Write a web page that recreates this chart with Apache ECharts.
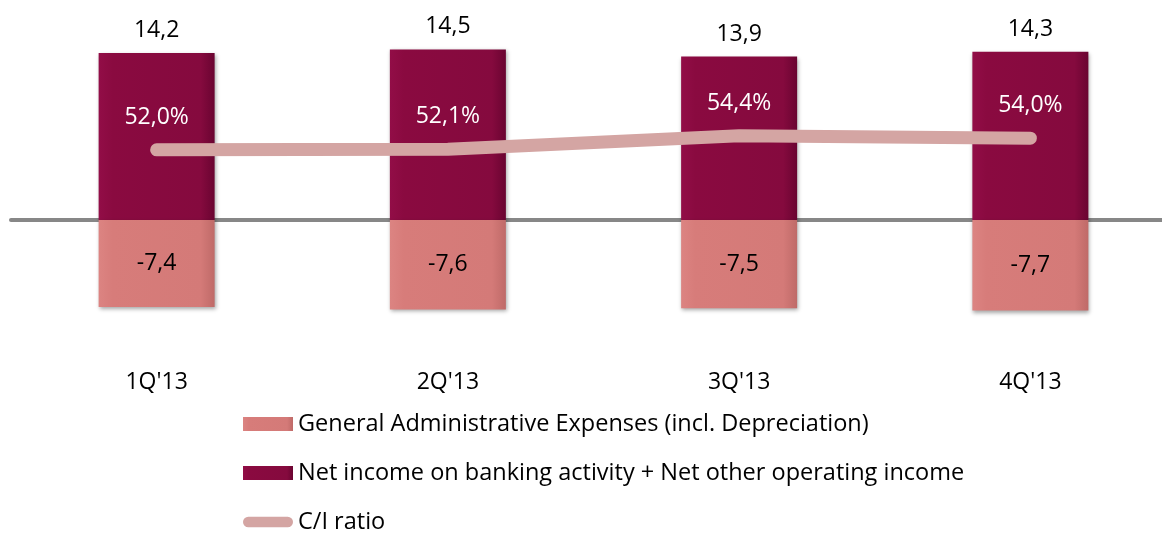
<!DOCTYPE html>
<html>
<head>
<meta charset="utf-8">
<script src="https://cdn.jsdelivr.net/npm/echarts@6/dist/echarts.min.js"></script>
<style>
html,body{margin:0;padding:0;background:#fff;}
#chart{width:1162px;height:536px;}
</style>
</head>
<body>
<div id="chart"></div>
<script>
const categories = ["1Q'13", "2Q'13", "3Q'13", "4Q'13"];
const netIncome = [14.2, 14.5, 13.9, 14.3];
const gaExpenses = [-7.4, -7.6, -7.5, -7.7];
const ciRatio = [52.0, 52.1, 54.4, 54.0];
const seriesNames = [
  'General Administrative Expenses (incl. Depreciation)',
  'Net income on banking activity + Net other operating income',
  'C/I ratio'
];

const FONT = '"Open Sans", sans-serif';
const fmt = v => Number(v).toFixed(1).replace('.', ',');

const chart = echarts.init(document.getElementById('chart'));
const darkGrad = new echarts.graphic.LinearGradient(0, 0, 1, 0, [
  {offset: 0, color: '#920d47'},
  {offset: 0.12, color: '#8a0a40'},
  {offset: 0.88, color: '#850a3e'},
  {offset: 1, color: '#6a0431'}
]);
const lightGrad = new echarts.graphic.LinearGradient(0, 0, 1, 0, [
  {offset: 0, color: '#dc8482'},
  {offset: 0.12, color: '#d77c7a'},
  {offset: 0.88, color: '#d47a78'},
  {offset: 1, color: '#bf6a68'}
]);

chart.setOption({
  animation: false,
  textStyle: {fontFamily: FONT},
  grid: {left: 11, right: -14, top: 31.8, bottom: 127.8, containLabel: false, outerBoundsMode: 'none'},
  legend: {
    orient: 'vertical',
    left: 243,
    top: 412,
    padding: 0,
    itemGap: 25,
    itemWidth: 50,
    itemHeight: 14,
    textStyle: {fontSize: 23.5, color: '#000', fontFamily: FONT},
    data: [
      {name: seriesNames[0], icon: 'rect'},
      {name: seriesNames[1], icon: 'rect'},
      {name: seriesNames[2], icon: 'path://M6,0 L51,0 A6,6 0 0 1 51,12 L6,12 A6,6 0 0 1 6,0 Z'}
    ]
  },
  xAxis: {
    type: 'category',
    data: categories,
    axisLine: {onZero: true, lineStyle: {color: '#878787', width: 4}},
    axisTick: {show: false},
    axisLabel: {margin: -37, fontSize: 23, color: '#000', fontFamily: FONT}
  },
  yAxis: [
    {type: 'value', min: -16, max: 16, show: false, splitLine: {show: false}},
    {type: 'value', min: 7.8, max: 72.2, show: false, splitLine: {show: false}}
  ],
  series: [
    {
      name: seriesNames[1],
      type: 'bar',
      data: netIncome,
      barWidth: 116,
      barGap: '-100%',
      itemStyle: {color: darkGrad, shadowBlur: 4, shadowColor: 'rgba(0,0,0,0.35)', shadowOffsetX: 1, shadowOffsetY: 2},
      label: {show: true, position: 'top', distance: 11, fontSize: 23, color: '#000', fontFamily: FONT, formatter: p => fmt(p.value)},
      z: 2
    },
    {
      name: seriesNames[0],
      type: 'bar',
      data: gaExpenses,
      barWidth: 116,
      barGap: '-100%',
      itemStyle: {color: lightGrad, shadowBlur: 4, shadowColor: 'rgba(0,0,0,0.35)', shadowOffsetX: 1, shadowOffsetY: 2},
      label: {show: true, position: 'inside', fontSize: 23, color: '#000', fontFamily: FONT, formatter: p => fmt(p.value)},
      z: 2
    },
    {
      name: seriesNames[2],
      type: 'line',
      yAxisIndex: 1,
      data: ciRatio,
      symbol: 'circle',
      symbolSize: 2,
      showSymbol: true,
      lineStyle: {color: '#d4a5a3', width: 13, cap: 'round', join: 'round'},
      itemStyle: {color: '#d4a5a3'},
      label: {show: true, position: 'top', distance: 20, fontSize: 23, color: '#fff', fontFamily: FONT, formatter: p => fmt(p.value) + '%'},
      z: 5
    }
  ]
});
</script>
</body>
</html>
